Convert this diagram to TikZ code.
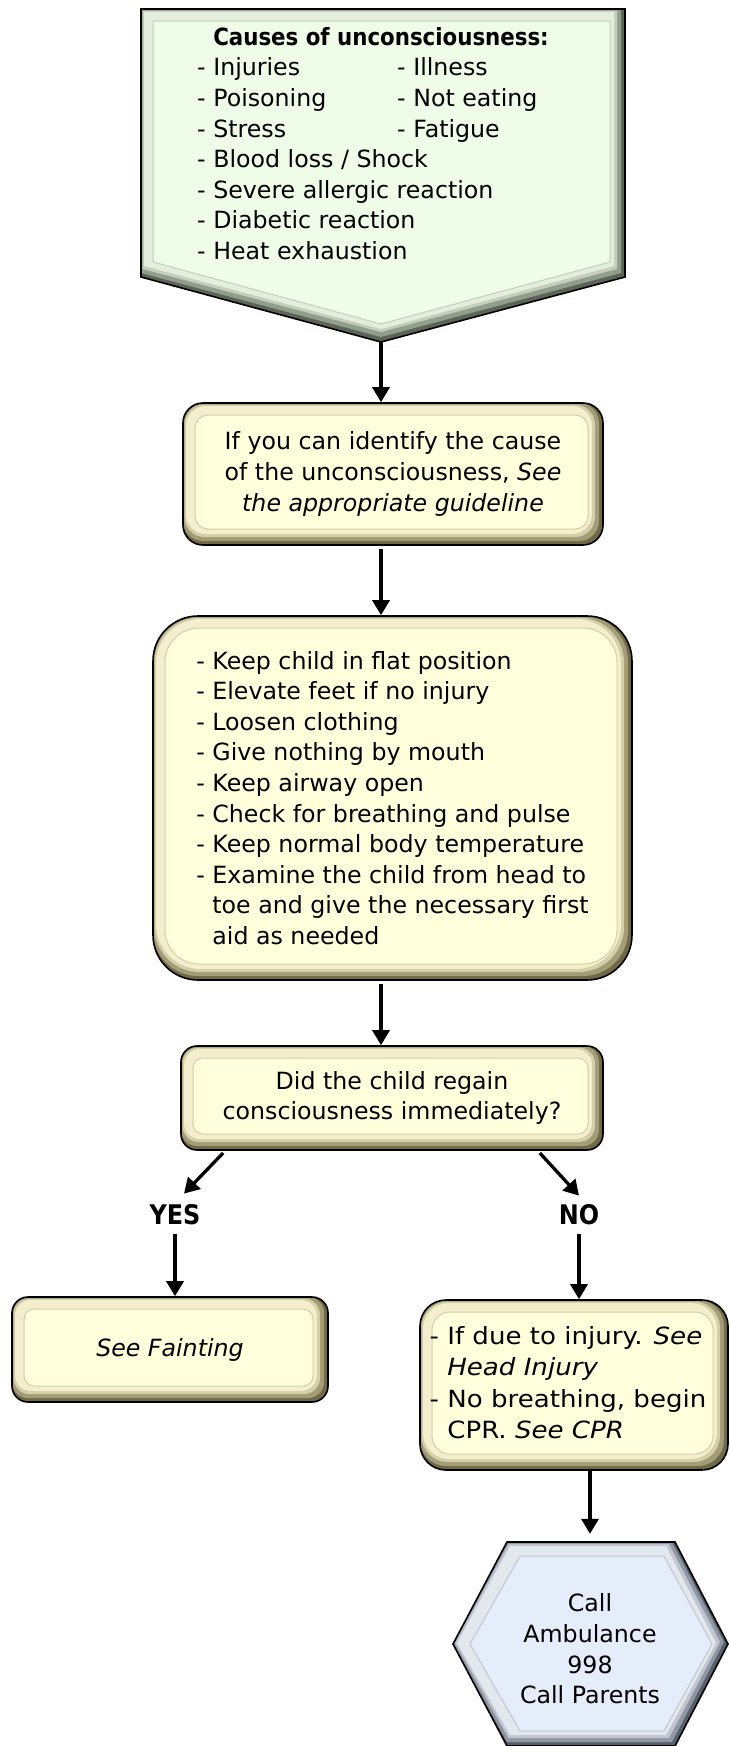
\documentclass[tikz,border=0pt]{standalone}
\usepackage{fontspec}
\setmainfont{DejaVu Sans}
\usepackage{graphicx}
\usetikzlibrary{arrows.meta,calc}

% cream panels
\definecolor{cface}{HTML}{FFFFDC}
\definecolor{cdark}{HTML}{6F6946}
\definecolor{cmid}{HTML}{A39D77}
\definecolor{clight}{HTML}{D5CFA9}
\definecolor{chi}{HTML}{F3EECB}
% green banner
\definecolor{gface}{HTML}{EFFCE7}
\definecolor{gdark}{HTML}{5A6556}
\definecolor{gmid}{HTML}{929E8D}
\definecolor{glight}{HTML}{C3CEBD}
\definecolor{ghi}{HTML}{E3EEDC}
% blue hexagon
\definecolor{bface}{HTML}{E5EDFA}
\definecolor{bdark}{HTML}{5A606B}
\definecolor{bmid}{HTML}{9097A3}
\definecolor{blight}{HTML}{C0C5CF}
\definecolor{bhi}{HTML}{E3E7EE}

\tikzset{
  txt/.style={font=\fontsize{23.7}{30.6}\selectfont},
  % bevelled rounded panel: #1 outer radius, #2 face radius, #3 palette prefix
  panel/.style n args={3}{txt, draw=black, line width=1.6pt, rounded corners=#1pt,
    fill=#3dark, inner sep=0pt, align=center,
    path picture={
      \path (path picture bounding box.north west) coordinate (pnw)
            (path picture bounding box.south east) coordinate (pse);
      \fill[#3mid, rounded corners=#1pt] (pnw) rectangle ([shift={(-4pt,4pt)}]pse);
      \fill[#3light, rounded corners=#1pt] ([shift={(1.5pt,-1.5pt)}]pnw) rectangle ([shift={(-8pt,8pt)}]pse);
      \fill[#3hi, rounded corners=#1pt] ([shift={(3pt,-3pt)}]pnw) rectangle ([shift={(-11pt,11pt)}]pse);
      \filldraw[fill=#3face, draw=#3light, line width=1pt, rounded corners=#2pt]
        ([shift={(12pt,-12pt)}]pnw) rectangle ([shift={(-15pt,16pt)}]pse);
    }},
  yn/.style={inner sep=6pt, font=\fontsize{27}{30}\selectfont\bfseries},
  arr/.style={line width=3.3pt, -{Triangle[width=17pt,length=15pt]}},
}

\begin{document}
\begin{tikzpicture}[x=1pt, y=-1pt, line join=round]
\useasboundingbox (0,0) rectangle (729,1746);

% banner with the list of causes
\fill[gdark] (141,9) -- (625,9) -- (625,277) -- (381,342) -- (141,277) -- cycle;
\fill[gmid] (141,9) -- (621,9) -- (621,273) -- (381,337) -- (141,273) -- cycle;
\fill[glight] (142.5,10.5) -- (617,10.5) -- (617,269) -- (381,332) -- (142.5,269) -- cycle;
\fill[ghi] (144,12) -- (614,12) -- (614,266) -- (381,329) -- (144,266) -- cycle;
\filldraw[fill=gface, draw=glight, line width=1pt] (153,21) -- (610,21) -- (610,262) -- (381,324) -- (153,262) -- cycle;
\draw[black, line width=1.6pt, line join=miter] (141,9) -- (625,9) -- (625,277) -- (381,342) -- (141,277) -- cycle;
\coordinate (causestip) at (381,342);
\node[txt, anchor=north west, align=left, inner sep=0pt] (causes) at (197,27)
  {\hphantom{- }\scalebox{0.9}[1]{\bfseries Causes of unconsciousness:}\\
   \makebox[200pt][l]{- Injuries}- Illness\\
   \makebox[200pt][l]{- Poisoning}- Not eating\\
   \makebox[200pt][l]{- Stress}- Fatigue\\
   - Blood loss / Shock\\
   - Severe allergic reaction\\
   - Diabetic reaction\\
   - Heat exhaustion};

% step panels
\node[panel={20}{13}{c}, minimum width=420pt, minimum height=142pt] (guide) at (393,474)
  {If you can identify the cause\\
   of the unconsciousness, \textit{See}\\
   \textit{the appropriate guideline}};

\node[panel={45}{34}{c}, minimum width=479pt, minimum height=364pt, align=left] (care) at (392.5,798)
  {- Keep child in flat position\\
   - Elevate feet if no injury\\
   - Loosen clothing\\
   - Give nothing by mouth\\
   - Keep airway open\\
   - Check for breathing and pulse\\
   - Keep normal body temperature\\
   - Examine the child from head to\\
   \hphantom{- }toe and give the necessary first\\
   \hphantom{- }aid as needed};

\node[panel={16}{10}{c}, minimum width=422pt, minimum height=104pt] (regain) at (392,1098)
  {Did the child regain\\consciousness immediately?};

\node[yn] (yes) at (175,1215) {\scalebox{0.885}[1]{YES}};
\node[yn] (no) at (579,1215) {\scalebox{0.885}[1]{NO}};

\node[panel={16}{10}{c}, minimum width=316pt, minimum height=105pt] (faint) at (170,1349.5)
  {\textit{See Fainting}};

\node[panel={26}{18}{c}, minimum width=308pt, minimum height=170pt] (noresp) at (574,1385)
  {\raisebox{-3.5pt}{\scalebox{1.1}[1]{\renewcommand\arraystretch{1.03}\begin{tabular}{@{}l@{}}
   - If due to injury. \textit{See}\\
   \hphantom{- }\textit{Head Injury}\\
   - No breathing, begin\\
   \hphantom{- }CPR. \textit{See CPR}
   \end{tabular}}}\kern12pt};

% emergency hexagon
\fill[bdark] (453,1644) -- (507,1542) -- (675,1542) -- (728,1644) -- (675,1746) -- (507,1746) -- cycle;
\fill[bmid] (453,1644) -- (507,1542) -- (672,1542) -- (724,1642) -- (672,1742) -- (507,1742) -- cycle;
\fill[blight] (455,1643) -- (508.5,1544) -- (669,1544) -- (720,1642) -- (669,1738) -- (508.5,1738) -- cycle;
\fill[bhi] (457,1643) -- (510,1546) -- (666,1546) -- (716,1643) -- (666,1735) -- (510,1735) -- cycle;
\filldraw[fill=bface, draw=blight, line width=1pt] (470,1644) -- (520,1556) -- (664,1556) -- (712,1644) -- (664,1731) -- (520,1731) -- cycle;
\draw[black, line width=1.6pt, line join=miter] (453,1644) -- (507,1542) -- (675,1542) -- (728,1644) -- (675,1746) -- (507,1746) -- cycle;
\node[txt, align=center, inner sep=0pt, minimum width=275pt, minimum height=214pt] (call) at (590,1649)
  {Call\\Ambulance\\998\\Call Parents};

% connectors
\draw[arr] (causestip) -- (causestip |- guide.north);
\draw[arr, shorten <=3pt] (guide.south -| causestip) -- (care.north -| causestip);
\draw[arr, shorten <=3pt] (care.south -| causestip) -- (regain.north -| causestip);
\draw[arr, shorten <=3pt] ([xshift=45pt]regain.south west) -- ([xshift=9pt,yshift=5pt]yes.north);
\draw[arr, shorten <=3pt] ([xshift=-66pt]regain.south east) -- ([yshift=3pt]no.north);
\draw[arr, shorten <=3pt] (yes.south) -- (yes.south |- faint.north);
\draw[arr, shorten <=3pt] (no.south) -- (no.south |- noresp.north);
\draw[arr, shorten >=8pt] (noresp.south -| call.north) -- (call.north);
\end{tikzpicture}
\end{document}
